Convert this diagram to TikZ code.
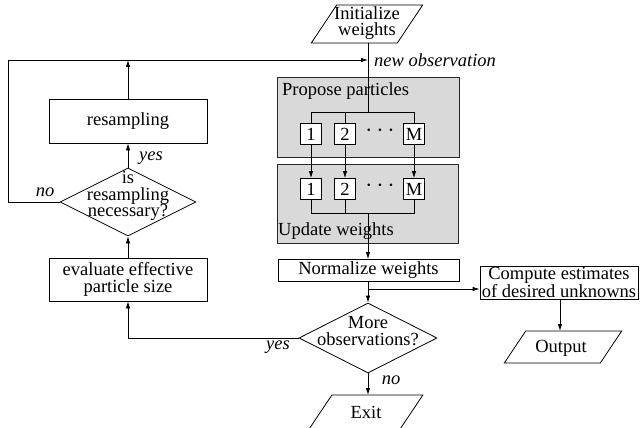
\documentclass[tikz,border=0pt]{standalone}
\usepackage{fontspec}
\setmainfont{Liberation Serif}
\usetikzlibrary{arrows.meta,shapes.geometric,calc}
\begin{document}
\begin{tikzpicture}[x=1pt,y=-1pt,
  every node/.style={font=\fontsize{18.5}{16.5}\selectfont, inner sep=0pt},
  box/.style={draw, line width=0.8pt, align=center},
  graybox/.style={draw=black!85, fill=gray!30, line width=0.8pt},
  small/.style={draw, fill=white, line width=0.8pt, minimum width=21pt, minimum height=21pt},
  dia/.style={draw, diamond, line width=0.8pt, inner sep=0pt},
  lab/.style={font=\itshape\fontsize{18.5}{16.5}\selectfont},
  dots/.style={font=\fontsize{24}{24}\selectfont},
  conn/.style={line width=0.8pt},
  arr/.style={conn, -{Latex[length=7pt,width=4.5pt]}},
]
\useasboundingbox (0,0) rectangle (640,428);

% gray group boxes
\node[graybox, minimum width=182pt, minimum height=80pt] (propose) at (368,117) {};
\node[graybox, minimum width=181pt, minimum height=79pt] (update) at (367.5,203.5) {};
\node[anchor=west] (proptxt) at (282,91) {Propose particles};
\node[anchor=west] (updtxt) at (278,231) {Update weights};

% main boxes
\node[box, minimum width=158pt, minimum height=44pt] (resamp) at (128,121) {resampling};
\node[box, minimum width=158pt, minimum height=43pt] (eval) at (128,279.5) {evaluate effective\\particle size};
\node[box, minimum width=181pt, minimum height=22pt] (norm) at (368.5,270.5) {Normalize weights};
\node[box, minimum width=158pt, minimum height=33pt] (comp) at (559,282.5) {Compute estimates\\of desired unknowns};

% diamonds
\node[dia, minimum width=136pt, minimum height=68pt] (d1) at (128,202) {};
\node[align=center] (d1txt) at (128,196) {is\\resampling\\necessary?};
\node[dia, minimum width=138pt, minimum height=70pt] (d2) at (368,338) {};
\node[align=center] (d2txt) at (368,331) {More\\observations?};

% parallelograms
\node[align=center] (init) at (367,23) {Initialize\\weights};
\draw[conn] ($(init.center)+(-55.7,20)$) -- ++(86,0) -- ++(25.4,-38) -- ++(-86,0) -- cycle;
\node (exit) at (366,412) {Exit};
\draw[conn] ($(exit.center)+(-56.9,17)$) -- ++(91,0) -- ++(22.8,-34) -- ++(-91,0) -- cycle;
\node (out) at (561,348) {Output};
\draw[conn] ($(out.center)+(-56.7,15)$) -- ++(96,0) -- ++(21.4,-32) -- ++(-96,0) -- cycle;

% coordinates
\coordinate (initbot) at (368,43);
\coordinate (obs) at (368,60);
\coordinate (lc) at (8,60);
\coordinate (pb) at (368,112);
\coordinate (ub) at (368,213);
\coordinate (nb) at (368,289);
\coordinate (exittop) at (368,395);
\coordinate (outtop) at (560,331);

% branch lines
\draw[conn] (initbot) -- (pb);

% particle boxes
\node[small] (p1) at (311,134) {1};
\node[small] (p2) at (345,134) {2};
\node[dots] (pdots) at (380,131) {$\cdots$};
\node[small] (pM) at (414,134) {M};
\node[small] (u1) at (311,189) {1};
\node[small] (u2) at (345,189) {2};
\node[dots] (udots) at (380,186) {$\cdots$};
\node[small] (uM) at (414,189) {M};

\draw[conn] (p1.north) -- (p1.north |- pb) -- (pM.north |- pb) -- (pM.north);
\draw[conn] (p2.north) -- (p2.north |- pb);
\draw[arr] (p1) -- (u1);
\draw[arr] (p2) -- (u2);
\draw[arr] (pM) -- (uM);
\draw[conn] (u1.south) -- (u1.south |- ub) -- (uM.south |- ub) -- (uM.south);
\draw[conn] (u2.south) -- (u2.south |- ub);
\draw[arr] (ub) -- (norm.north -| ub);

% flow
\draw[arr] (norm.south -| d2.north) -- (d2.north);
\draw[arr] (nb) -- (comp.west |- nb);
\draw[arr] (comp.south -| outtop) -- (outtop);
\draw[arr] (d2.south) -- (exittop);
\draw[arr] (d2.west) -| (eval.south);
\draw[arr] (eval.north) -- (d1.south);
\draw[arr] (d1.north) -- (resamp.south);
\draw[arr] (resamp.north) -- (resamp.north |- obs);
\draw[arr] (d1.west) -| (lc) -- (obs);

% labels
\node[lab] (yes1) at (151,158) {yes};
\node[lab] (no1) at (45,192) {no};
\node[lab] (yes2) at (278,347) {yes};
\node[lab] (no2) at (391,380) {no};
\node[lab, anchor=west] (newobs) at (374,60) {new observation};
\end{tikzpicture}
\end{document}
